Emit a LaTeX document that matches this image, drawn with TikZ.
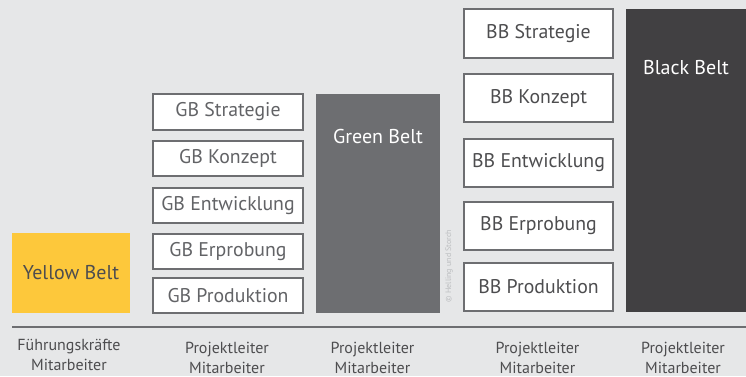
\documentclass[tikz,border=0pt]{standalone}
\usepackage{fontspec}
\setmainfont{PT Sans}
\definecolor{cbg}{HTML}{E6E7E8}
\definecolor{cgray}{HTML}{6D6E71}
\definecolor{cblack}{HTML}{414042}
\definecolor{cyellow}{HTML}{FDC83B}
\definecolor{ctext}{HTML}{4D4D4F}
\definecolor{cgbtext}{HTML}{626366}
\definecolor{ccopy}{HTML}{BCBEC0}
\tikzset{
  stagebox/.style={draw=cgray, line width=2.2pt, fill=white, inner sep=0pt,
    font=\fontsize{19.8}{22}\selectfont},
  gbbox/.style={stagebox, text=cgbtext, minimum width=150pt, minimum height=35.5pt},
  bbbox/.style={stagebox, text=ctext, minimum width=149pt, minimum height=48.5pt},
  beltbox/.style={inner sep=0pt, draw=none},
  belttext/.style={text=white, inner sep=0pt, font=\fontsize{20}{22}\selectfont},
  rolelabel/.style={align=center, text=ctext, inner sep=0pt,
    font=\fontsize{16}{20}\selectfont},
}
\begin{document}
\begin{tikzpicture}[x=1pt, y=-1pt]
\fill[cbg] (0,0) rectangle (746,376);
\useasboundingbox (0,0) rectangle (746,376);

% Yellow belt
\node[beltbox, fill=cyellow, minimum width=118pt, minimum height=80pt,
      text=ctext, font=\fontsize{20}{22}\selectfont] (yb) at (71,273) {Yellow Belt};

% Green belt stages
\node[gbbox] (gb1) at (228,112) {GB Strategie};
\node[gbbox] (gb2) at (228,158.5) {GB Konzept};
\node[gbbox] (gb3) at (228,205.5) {GB Entwicklung};
\node[gbbox] (gb4) at (228,251.5) {GB Erprobung};
\node[gbbox] (gb5) at (228,295.5) {GB Produktion};

% Green belt
\node[beltbox, fill=cgray, minimum width=124pt, minimum height=219pt] (gb) at (378,203.5) {};
\node[belttext, anchor=base] (gbt) at (378,143) {Green Belt};

% copyright
\node[rotate=90, text=ccopy, inner sep=0pt, font=\fontsize{8}{9}\selectfont] (copy) at (449,266) {© Helling und Storch};

% Black belt stages
\node[bbbox] (bb1) at (538.5,33.5) {BB Strategie};
\node[bbbox] (bb2) at (538.5,98) {BB Konzept};
\node[bbbox] (bb3) at (538.5,163) {BB Entwicklung};
\node[bbbox] (bb4) at (538.5,226) {BB Erprobung};
\node[bbbox] (bb5) at (538.5,287) {BB Produktion};

% Black belt
\node[beltbox, fill=cblack, minimum width=120pt, minimum height=303pt] (bk) at (686,160.5) {};
\node[belttext, anchor=base] (bkt) at (686,74) {Black Belt};

% base rule
\coordinate (r0) at (12,327);
\coordinate (r1) at (746,327);
\draw[cgray, line width=2.5pt] (r0) -- (r1);

% role labels
\node[rolelabel] (l1) at (69,355) {Führungskräfte\\Mitarbeiter};
\node[rolelabel] (l2) at (227,357.5) {Projektleiter\\Mitarbeiter};
\node[rolelabel] (l3) at (372.5,357.5) {Projektleiter\\Mitarbeiter};
\node[rolelabel] (l4) at (537.5,357.5) {Projektleiter\\Mitarbeiter};
\node[rolelabel] (l5) at (683,357.5) {Projektleiter\\Mitarbeiter};
\end{tikzpicture}
\end{document}
